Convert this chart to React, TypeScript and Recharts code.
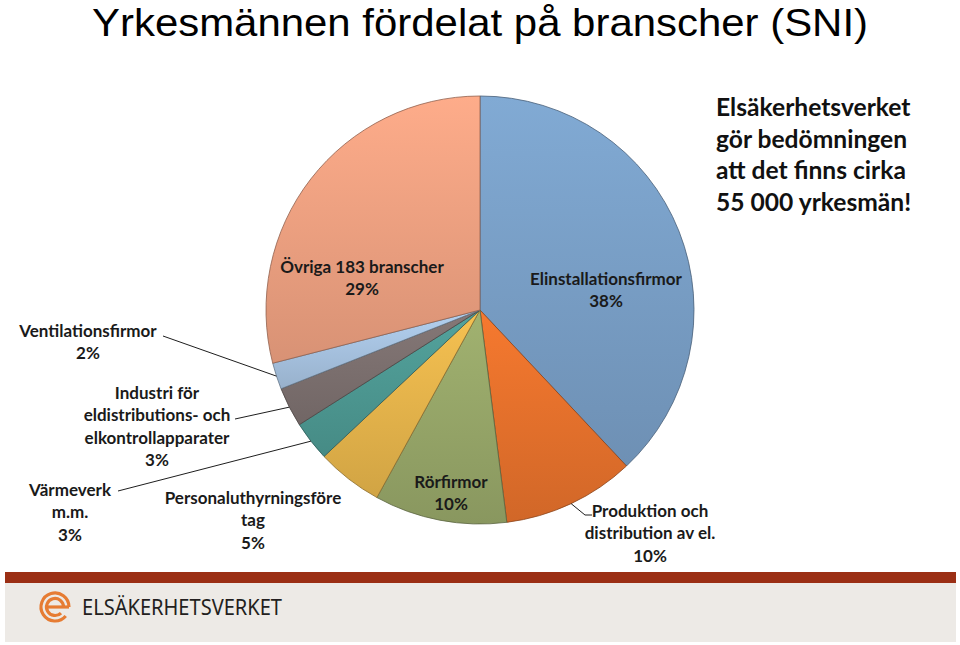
import React from "react";
import { PieChart, Pie, Cell } from "recharts";

const CATEGORIES = [
  "Elinstallationsfirmor",
  "Produktion och\ndistribution av el.",
  "Rörfirmor",
  "Personaluthyrningsföre\ntag",
  "Värmeverk\nm.m.",
  "Industri för\neldistributions- och\nelkontrollapparater",
  "Ventilationsfirmor",
  "Övriga 183 branscher",
];
const SHARES = [38, 10, 10, 5, 3, 3, 2, 29];
const COLORS = ["#7aa0c8", "#e8722c", "#98a86a", "#e8b64c", "#4e9a94", "#7d7170", "#a9c5e3", "#f0a282"];
const TITLE = "Yrkesmännen fördelat på branscher (SNI)";
const NOTE_LINES = ["Elsäkerhetsverket", "gör bedömningen", "att det finns cirka", "55 000 yrkesmän!"];
const BRAND = "ELSÄKERHETSVERKET";

const DATA = CATEGORIES.map((name, i) => ({ name, value: SHARES[i] }));

// label layout (text block centre of first line, optional leader waypoints)
const LABEL_LAYOUT: { x: number; y: number; leader?: number[][] }[] = [
  { x: 606, y: 278 },
  { x: 650, y: 510, leader: [[585, 515], [592, 515]] },
  { x: 451, y: 481 },
  { x: 253, y: 497 },
  { x: 70, y: 489, leader: [[118, 491]] },
  { x: 157, y: 392, leader: [[235, 419]] },
  { x: 88, y: 330, leader: [[163, 336]] },
  { x: 362, y: 266 },
];
const LINE_H = 22.5;
const LABEL_FONT = "Lato, 'Open Sans', sans-serif";
const RAD = Math.PI / 180;

function shade(hex: string, f: number) {
  const n = parseInt(hex.slice(1), 16);
  const r = Math.min(255, Math.round(((n >> 16) & 255) * f));
  const g = Math.min(255, Math.round(((n >> 8) & 255) * f));
  const b = Math.min(255, Math.round((n & 255) * f));
  return `rgb(${r},${g},${b})`;
}

function renderLabel(props: any) {
  const { cx, cy, midAngle, outerRadius, index } = props;
  const lay = LABEL_LAYOUT[index];
  const lines = [...CATEGORIES[index].split("\n"), `${SHARES[index]}%`];
  const ex = cx + outerRadius * Math.cos(-midAngle * RAD);
  const ey = cy + outerRadius * Math.sin(-midAngle * RAD);
  return (
    <g key={`lbl-${index}`}>
      {lay.leader && (
        <polyline
          points={[[ex, ey], ...lay.leader].map((p) => p.join(",")).join(" ")}
          fill="none"
          stroke="#1e1e1e"
          strokeWidth={1}
        />
      )}
      {lines.map((l, i) => (
        <text
          key={i}
          x={lay.x}
          y={lay.y + i * LINE_H}
          textAnchor="middle"
          dominantBaseline="central"
          fontFamily={LABEL_FONT}
          fontWeight={700}
          fontSize={17}
          fill="#1a1a1a"
        >
          {l}
        </text>
      ))}
    </g>
  );
}

export default function App() {
  return (
    <div style={{ position: "absolute", left: 0, top: 0, width: 960, height: 645, background: "#fff" }}>
      <svg width={960} height={645} style={{ position: "absolute", left: 0, top: 0 }}>
        <defs>
          {COLORS.map((c, i) => (
            <linearGradient key={i} id={`g${i}`} x1="0" y1="0" x2="0" y2="1">
              <stop offset="0%" stopColor={shade(c, 1.06)} />
              <stop offset="100%" stopColor={shade(c, 0.9)} />
            </linearGradient>
          ))}
        </defs>
        <text x={92} y={35.5} fontFamily="'Liberation Sans', Arial, sans-serif" fontSize={39} textLength={776} lengthAdjust="spacingAndGlyphs" fill="#000">
          {TITLE}
        </text>
        {NOTE_LINES.map((l, i) => (
          <text key={i} x={716} y={116 + i * 31.7} fontFamily={LABEL_FONT} fontWeight={700} fontSize={24.6} fill="#111">
            {l}
          </text>
        ))}
        <rect x={5} y={572} width={951} height={11} fill="#9b2f15" />
        <rect x={5} y={583} width={951} height={59} fill="#edeae6" />
        <g fill="none" stroke="#e67c33" strokeWidth={3.2}>
          <path d={`M ${55 + 14} 607 A 14 14 0 1 0 ${55 + 14 * Math.cos(40 * RAD)} ${607 + 14 * Math.sin(40 * RAD)}`} />
          <path d={`M ${55 + 8.5} 607 A 8.5 8.5 0 1 0 ${55 + 8.5 * Math.cos(45 * RAD)} ${607 + 8.5 * Math.sin(45 * RAD)}`} />
          <line x1={47} y1={607} x2={69} y2={607} />
        </g>
        <text x={82} y={615} fontFamily="'Noto Sans', sans-serif" fontSize={21} textLength={200} lengthAdjust="spacingAndGlyphs" fill="#231f20">
          {BRAND}
        </text>
      </svg>
      <div style={{ position: "absolute", left: 0, top: 0 }}>
        <PieChart width={960} height={645} margin={{ top: 0, right: 0, bottom: 0, left: 0 }}>
          <Pie
            data={DATA}
            dataKey="value"
            nameKey="name"
            cx={480}
            cy={310}
            outerRadius={214}
            startAngle={90}
            endAngle={-270}
            isAnimationActive={false}
            label={renderLabel}
            labelLine={false}
          >
            {DATA.map((d, i) => (
              <Cell key={d.name} fill={`url(#g${i})`} stroke={shade(COLORS[i], 0.6)} strokeWidth={0.8} />
            ))}
          </Pie>
        </PieChart>
      </div>
    </div>
  );
}
